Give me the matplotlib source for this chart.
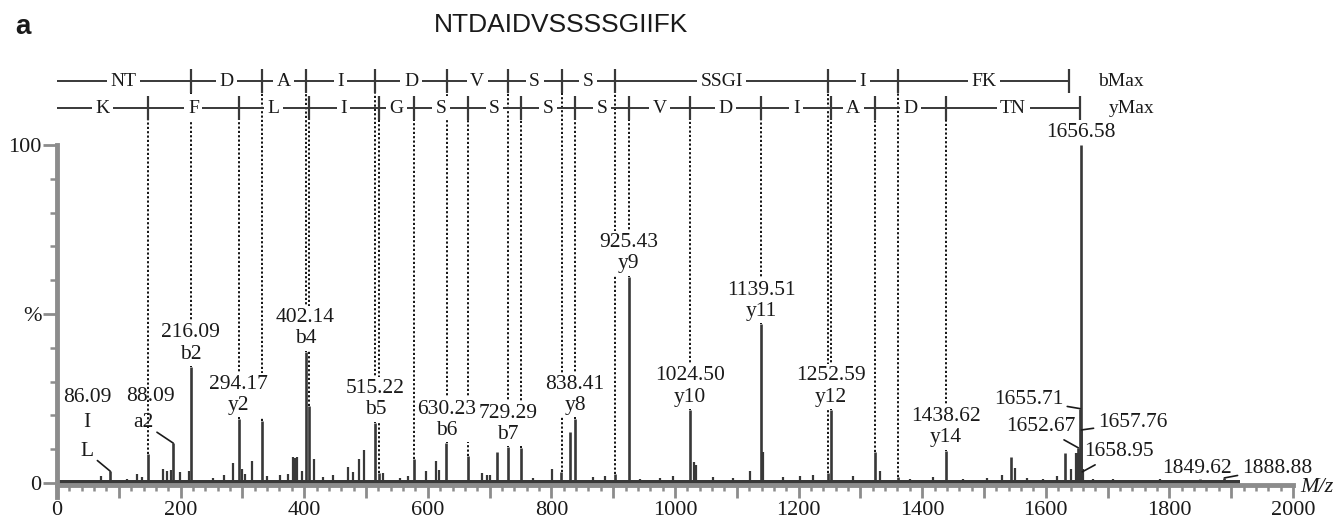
import numpy as np
import matplotlib.pyplot as plt
from matplotlib.ticker import MultipleLocator, FixedLocator, FuncFormatter

# MS/MS スペクトル NTDAIDVSSSSGIIFK

# 主なピーク (m/z, 相対強度 %)
major_mz = [86.09, 147.11, 188.09, 216.09, 294.17, 331.12, 402.14, 407.25, 515.22,
            520.33, 577.35, 630.23, 664.38, 712.0, 729.29, 751.41, 816.32, 830.0,
            838.41, 903.35, 925.43, 1024.50, 1139.51, 1247.5, 1252.59, 1323.63,
            1360.6, 1438.62, 1543.0, 1631.0, 1652.67, 1655.71, 1656.58, 1657.76,
            1658.95, 1849.62, 1888.88]
major_int = [3.5, 8.6, 11.8, 34.3, 19.0, 18.3, 38.8, 22.8, 17.8,
             3.0, 7.0, 11.8, 8.0, 9.2, 10.6, 10.4, 3.3, 15.0,
             19.0, 2.7, 61.0, 21.6, 47.0, 3.0, 21.6, 9.2,
             1.7, 9.5, 7.7, 8.9, 10.4, 22.0, 100.0, 15.7,
             3.3, 1.2, 1.5]

# 小さいピーク(ノイズ)
minor_mz = [72, 113, 129, 137, 171, 178, 184, 199, 213, 253,
            270, 285, 299, 304, 315, 339, 361, 373, 382, 385,
            388, 396, 416, 431, 447, 471, 479, 489, 497, 528,
            555, 568, 597, 614, 618, 688, 695, 701, 770, 801,
            867, 887, 943, 976, 997, 1031, 1034, 1062, 1094, 1121,
            1142, 1175, 1202, 1223, 1288, 1332, 1380, 1418, 1466, 1505,
            1529, 1550, 1569, 1596, 1618, 1641, 1649, 1651, 1653, 1654,
            1660, 1677, 1709, 1741, 1785]
minor_int = [2.2, 1.2, 2.7, 1.7, 4.1, 3.6, 3.8, 3.3, 3.6, 1.5,
             2.4, 5.9, 4.1, 2.7, 6.5, 2.0, 2.4, 2.7, 7.7, 7.5,
             7.7, 3.6, 7.0, 1.7, 2.4, 4.8, 3.3, 7.0, 9.8, 3.0,
             1.5, 2.2, 3.6, 6.5, 3.8, 3.0, 2.5, 2.4, 1.5, 4.0,
             1.7, 2.0, 1.2, 1.5, 2.0, 6.2, 5.3, 1.7, 1.5, 3.6,
             9.2, 1.7, 2.0, 2.4, 2.0, 3.6, 1.2, 1.7, 1.2, 1.5,
             2.4, 4.4, 1.5, 1.2, 2.0, 4.0, 9.0, 9.0, 9.0, 9.0,
             4.0, 1.2, 1.2, 1.0, 1.2]
baseline_end = 1914
baseline_level = 1.0

# ラベル付きピーク
label_mz = [216.09, 294.17, 402.14, 515.22, 630.23, 729.29, 838.41, 925.43,
            1024.50, 1139.51, 1252.59, 1438.62]
label_ion = ['b2', 'y2', 'b4', 'b5', 'b6', 'b7', 'y8', 'y9', 'y10', 'y11', 'y12', 'y14']

# ラダー (b系列, y系列)
b_ions = [216.09, 331.12, 402.16, 515.24, 630.27, 729.34, 816.37, 903.40,
          1247.56, 1360.64, 1637.8]
b_res = ['NT', 'D', 'A', 'I', 'D', 'V', 'S', 'S', 'SSGI', 'I', 'FK']
y_ions = [147.11, 294.18, 407.27, 520.35, 577.37, 664.40, 751.44, 838.47,
          925.50, 1024.57, 1139.60, 1252.68, 1323.72, 1438.75, 1655.5]
y_res = ['K', 'F', 'L', 'I', 'G', 'S', 'S', 'S', 'S', 'V', 'D', 'I', 'A', 'D', 'TN']

title = 'NTDAIDVSSSSGIIFK'

peak_color = '#383838'
axis_color = '#8c8c8c'
text_color = '#1a1a1a'
serif = 'Liberation Serif'
fs = 15.5

fig = plt.figure(figsize=(13.36, 5.21), dpi=100)
ax = fig.add_axes([57 / 1336, 24 / 521, 1236 / 1336, 497 / 521])
ax.set_xlim(0, 2000)
ax.set_ylim(-4.14, 142.9)

# ピーク
ax.vlines(minor_mz, 0, minor_int, color=peak_color, lw=1.6, zorder=2)
ax.vlines(major_mz, 0, major_int, color=peak_color, lw=1.9, zorder=2)
ax.fill_between([0, baseline_end], -0.7, baseline_level, color=peak_color, lw=0, zorder=2)


def peak_height(mz):
    d = np.abs(np.array(major_mz) - mz)
    i = d.argmin()
    return major_int[i] if d[i] < 1.5 else 1.0


# ラダー
b_row, y_row, half = 118.9, 110.9, 3.6
lbox = dict(facecolor='white', edgecolor='none', pad=2.5)
for row, ions, res, name in [(b_row, b_ions, b_res, 'bMax'), (y_row, y_ions, y_res, 'yMax')]:
    ax.hlines(row, 0, ions[-1], color=peak_color, lw=1.4, zorder=3)
    ax.vlines(ions, row - half, row + half, color=peak_color, lw=1.6, zorder=3)
    edges = [0] + ions
    for k, r in enumerate(res):
        ax.text((edges[k] + edges[k + 1]) / 2, row, r, ha='center', va='center',
                fontsize=14, family=serif, color=text_color, bbox=lbox, zorder=4)
    ax.text(ions[-1] + 47, row, name, ha='left', va='center', fontsize=14,
            family=serif, color=text_color)
    # 点線
    for mz in ions[:-1]:
        ax.vlines(mz, peak_height(mz), row - half, color='black', lw=1.3,
                  linestyles=(0, (1.2, 1.2)), zorder=1)

tbox = dict(facecolor='white', edgecolor='none', pad=1.5)
tkw = dict(fontsize=fs, family=serif, color=text_color, zorder=5)
for mz, ion in zip(label_mz, label_ion):
    ax.annotate(f'{mz:.2f}\n{ion}', (mz, peak_height(mz)), xytext=(0, 2.5),
                textcoords='offset points', ha='center', va='bottom',
                linespacing=1.15, bbox=tbox, **tkw)
ax.annotate('1656.58', (1656.58, 100), xytext=(0, 2.5), textcoords='offset points',
            ha='center', va='bottom', bbox=tbox, **tkw)

# 引き出し線付きラベル
lead = dict(arrowstyle='-', color=text_color, lw=1.2, shrinkA=1, shrinkB=0)
ax.text(48.5, 25.4, '86.09', ha='center', va='center', **tkw)
ax.text(48.5, 17.8, 'I', ha='center', va='center', **tkw)
ax.annotate('L', (86.09, 3.5), xytext=(48.5, 9.2), ha='center', va='center',
            arrowprops=lead, **tkw)
ax.text(150.5, 25.7, '88.09', ha='center', va='center', **tkw)
ax.annotate('a2', (188.09, 11.8), xytext=(139, 17.8), ha='center', va='center',
            arrowprops=lead, **tkw)
ax.annotate('1655.71', (1655.71, 22.0), xytext=(1628, 24.6), ha='right', va='center',
            arrowprops=lead, **tkw)
ax.annotate('1652.67', (1652.67, 10.4), xytext=(1648, 16.6), ha='right', va='center',
            arrowprops=lead, **tkw)
ax.annotate('1657.76', (1657.76, 15.7), xytext=(1684, 17.8), ha='left', va='center',
            arrowprops=lead, **tkw)
ax.annotate('1658.95', (1658.95, 3.3), xytext=(1662, 9.2), ha='left', va='center',
            arrowprops=lead, **tkw)
ax.text(1845, 4.4, '1849.62', ha='center', va='center', **tkw)
ax.annotate('1888.88', (1888.88, 1.5), xytext=(1917, 4.4), ha='left', va='center',
            arrowprops=lead, **tkw)

# 軸
for s in ['top', 'right']:
    ax.spines[s].set_visible(False)
ax.spines['bottom'].set_position(('data', -0.7))
ax.spines['bottom'].set_bounds(0, 2000)
ax.spines['left'].set_bounds(-4, 100)
for s in ['bottom', 'left']:
    ax.spines[s].set_color(axis_color)
    ax.spines[s].set_linewidth(3.5)
ax.xaxis.set_major_locator(MultipleLocator(100))
ax.xaxis.set_minor_locator(MultipleLocator(20))
ax.xaxis.set_major_formatter(FuncFormatter(lambda v, p: f'{int(v)}' if int(v) % 200 == 0 else ''))
ax.set_yticks([0, 50, 100])
ax.set_yticklabels(['0', '%', '100'])
ax.yaxis.set_minor_locator(FixedLocator(range(10, 100, 10)))
ax.tick_params(axis='x', which='major', length=9, width=2, color=axis_color, pad=2)
ax.tick_params(axis='x', which='minor', length=4.5, width=1.8, color=axis_color)
ax.tick_params(axis='y', which='major', length=10, width=2, color=axis_color, pad=1)
ax.tick_params(axis='y', which='minor', length=5, width=1.8, color=axis_color)
for lab in ax.get_xticklabels() + ax.get_yticklabels():
    lab.set_fontfamily(serif)
    lab.set_fontsize(16)
    lab.set_color(text_color)
ax.text(2012, -1.2, 'M/z', ha='left', va='center', fontsize=16, family=serif,
        style='italic', color=text_color)

fig.text(561 / 1336, 1 - 25 / 521, title, ha='center', va='center', fontsize=19,
         family='Liberation Sans', color=text_color)
fig.text(15 / 1336, 1 - 34 / 521, 'a', ha='left', va='baseline', fontsize=20,
         family='Liberation Sans', weight='bold', color=text_color)

fig.savefig('out.png', dpi=100)
